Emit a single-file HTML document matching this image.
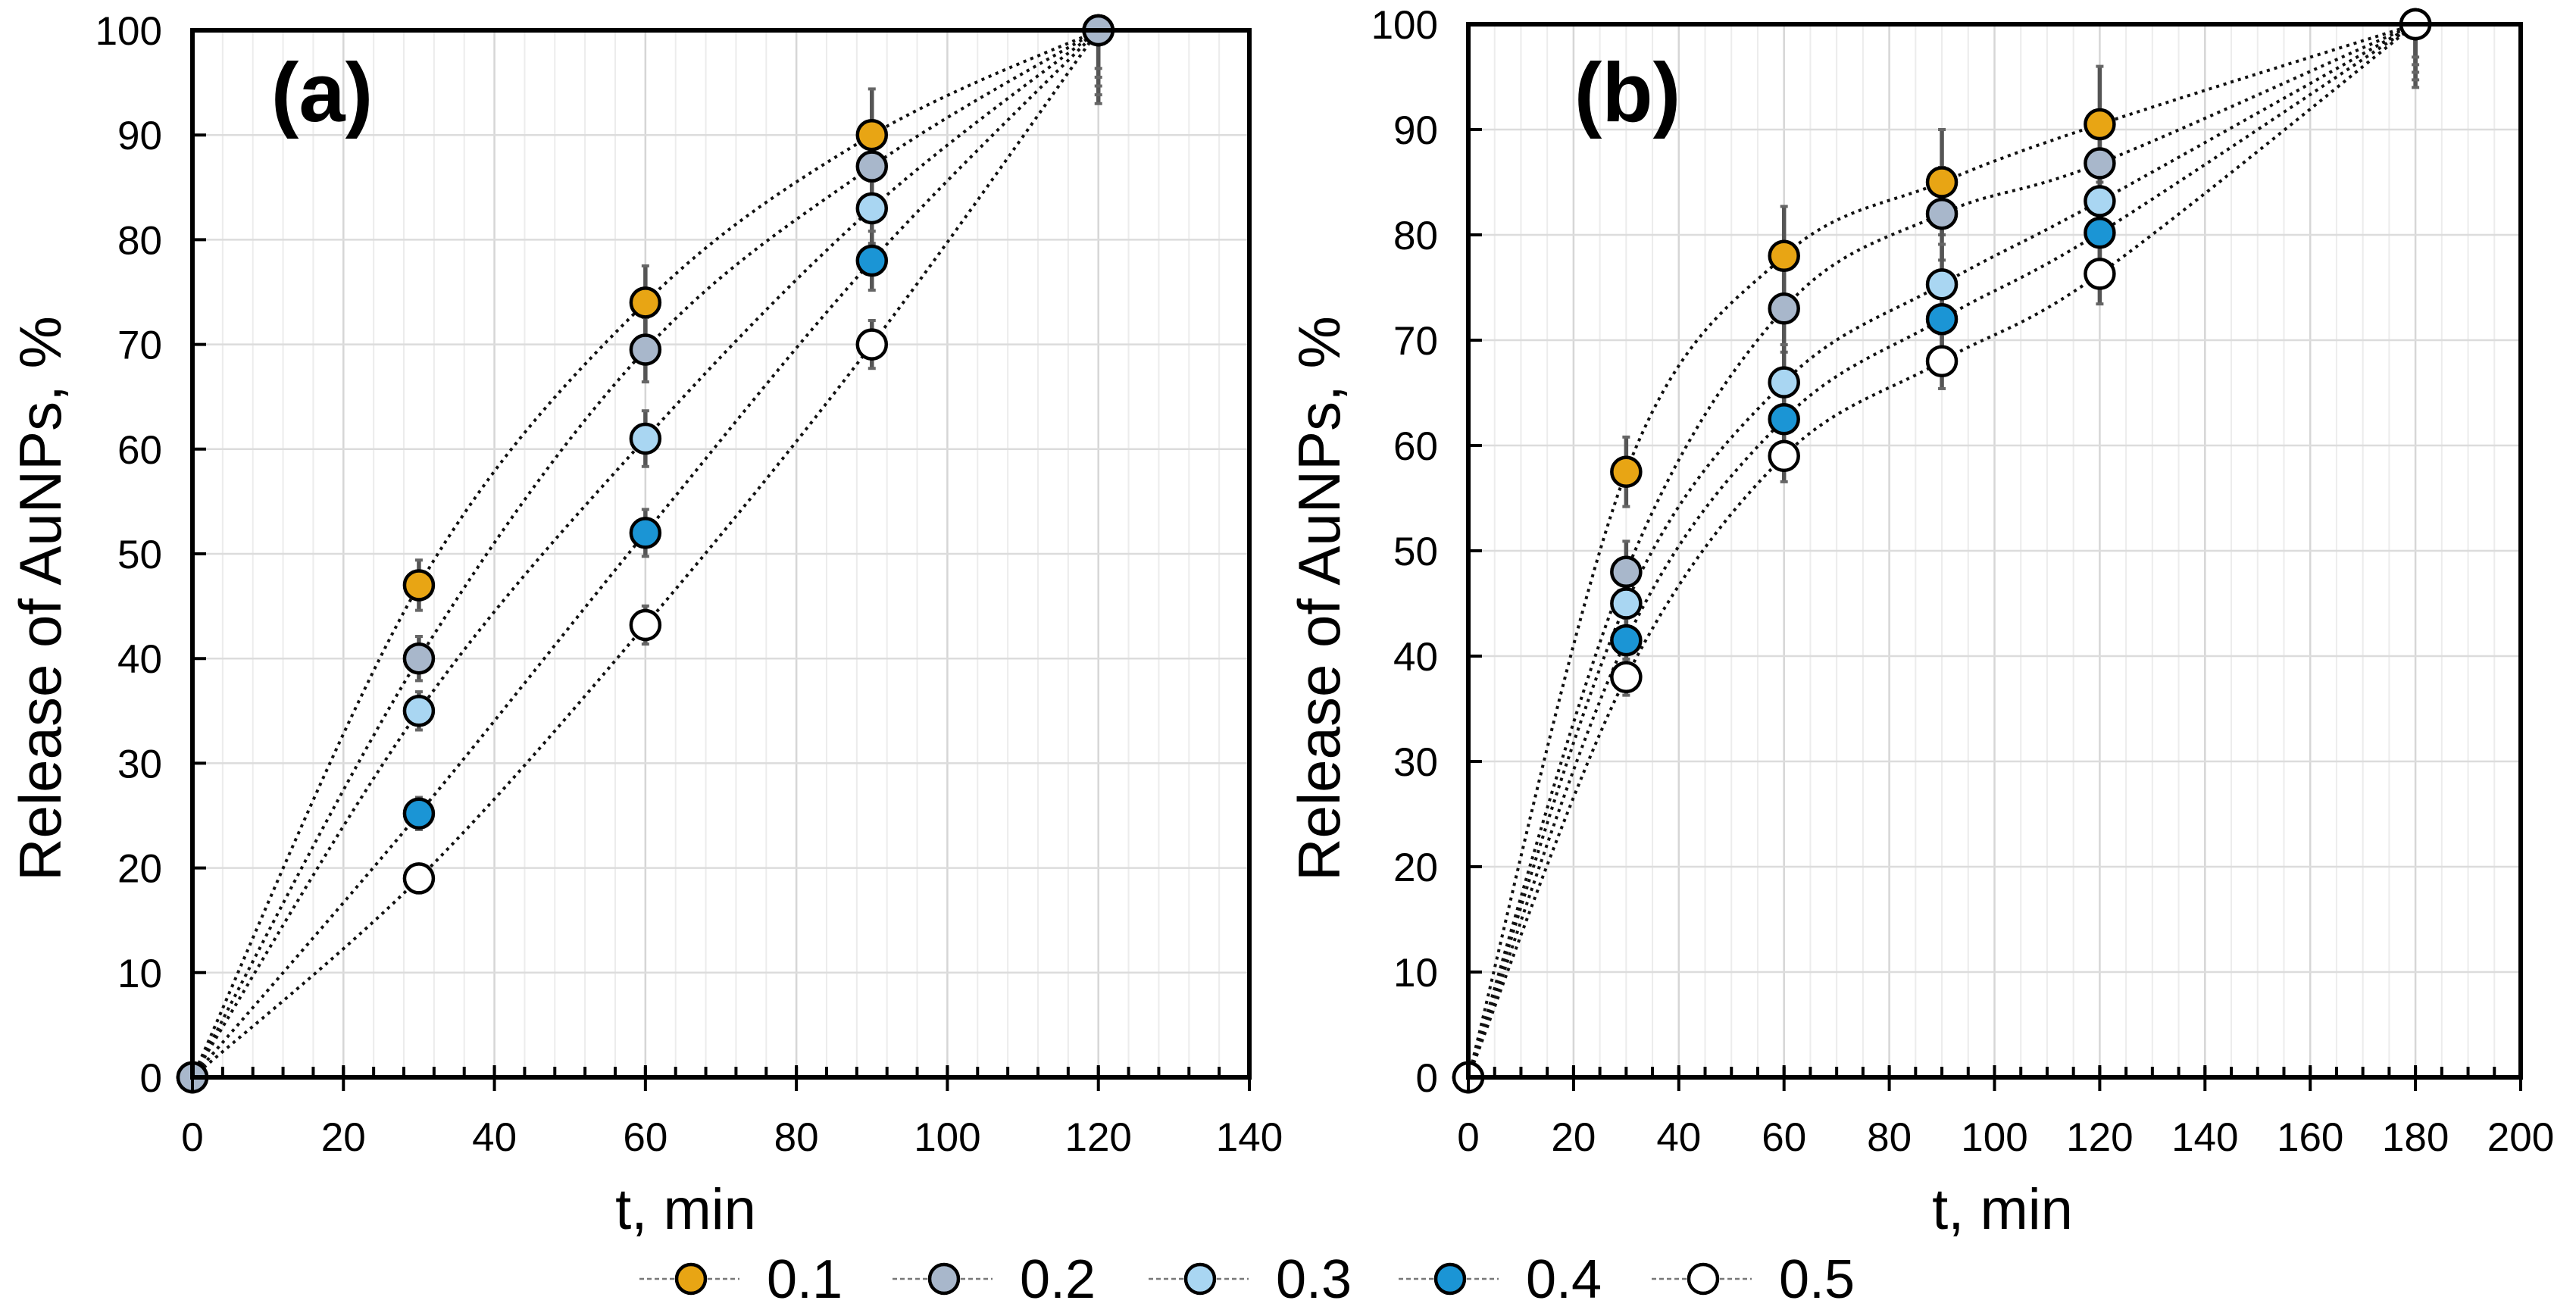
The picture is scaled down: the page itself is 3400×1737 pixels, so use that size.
<!DOCTYPE html>
<html><head><meta charset="utf-8">
<style>
html,body{margin:0;padding:0;background:#fff;}
svg{display:block;font-family:"Liberation Sans",Arial,sans-serif;}
</style></head>
<body>
<svg id="chart" width="3400" height="1737" viewBox="0 0 3400 1737" xmlns="http://www.w3.org/2000/svg"></svg>
<script>
// ---- data ----
const seriesNames = ["0.1","0.2","0.3","0.4","0.5"];
const seriesColors = ["#E8A514","#A8B7CB","#A9D6F2","#1B95D5","#FFFFFF"];
const timesA = [0,30,60,90,120];
const a01 = [0,47,74,90,100];
const a02 = [0,40,69.5,87,100];
const a03 = [0,35,61,83,100];
const a04 = [0,25.2,52,78,100];
const a05 = [0,19,43.2,70,100];
const errA = [0,2.4,3.5,4.4,7];
const timesB = [0,30,60,90,120,180];
const b01 = [0,57.5,78,85,90.5,100];
const b02 = [0,48,73,82,86.8,100];
const b03 = [0,45,66,75.3,83.2,100];
const b04 = [0,41.5,62.5,72,80.2,100];
const b05 = [0,38,59,68,76.3,100];
const errB = [0,3.3,4.7,5,5.5,6];
const yTicks = [0,10,20,30,40,50,60,70,80,90,100];
const xTicksA = [0,20,40,60,80,100,120,140];
const xTicksB = [0,20,40,60,80,100,120,140,160,180,200];

const NS="http://www.w3.org/2000/svg";
const svg=document.getElementById('chart');
function el(tag,attrs,parent){const e=document.createElementNS(NS,tag);for(const k in attrs)e.setAttribute(k,attrs[k]);(parent||svg).appendChild(e);return e;}

function smoothPath(pts){
  let d="M"+pts[0][0]+","+pts[0][1];
  for(let i=0;i<pts.length-1;i++){
    const p0=pts[i-1]||pts[i],p1=pts[i],p2=pts[i+1],p3=pts[i+2]||p2;
    const t=1/6;
    const c1=[p1[0]+(p2[0]-p0[0])*t,p1[1]+(p2[1]-p0[1])*t];
    const c2=[p2[0]-(p3[0]-p1[0])*t,p2[1]-(p3[1]-p1[1])*t];
    d+=" C"+c1[0]+","+c1[1]+" "+c2[0]+","+c2[1]+" "+p2[0]+","+p2[1];
  }
  return d;
}

function panel(cfg){
  const g=el('g',{});
  
  
  const X=v=>cfg.left+(v-cfg.xmin)/(cfg.xmax-cfg.xmin)*(cfg.right-cfg.left);
  const Y=v=>cfg.bottom-(v/100)*(cfg.bottom-cfg.top);
  for(let v=cfg.xmin;v<=cfg.xmax;v+=cfg.minor){
    el('line',{x1:X(v),x2:X(v),y1:cfg.top,y2:cfg.bottom,stroke:"#ececec","stroke-width":2},g);
  }
  cfg.xticks.forEach(v=>{el('line',{x1:X(v),x2:X(v),y1:cfg.top,y2:cfg.bottom,stroke:"#d6d6d6","stroke-width":2.5},g);});
  yTicks.forEach(v=>{el('line',{x1:cfg.left,x2:cfg.right,y1:Y(v),y2:Y(v),stroke:"#dcdcdc","stroke-width":2.5},g);});
  cfg.series.forEach((s,i)=>{
    const p=el('path',{d:smoothPath(cfg.times.map((t,j)=>[X(t),Y(s[j])])),fill:"none",stroke:"#111","stroke-width":4,"stroke-dasharray":"4 6"},g);
    
    
  });
  cfg.series.forEach((s,i)=>{
    cfg.times.forEach((t,j)=>{
      if(j===0)return;
      const e=cfg.err[j]*(1-i*0.12);
      const lo=Y(s[j]-e),hi=Y(j===cfg.times.length-1?s[j]:s[j]+e);
      const eb=el('line',{x1:X(t),x2:X(t),y1:lo,y2:hi,stroke:"#555","stroke-width":5.5},g);
      
      
      el('line',{x1:X(t)-5,x2:X(t)+5,y1:lo,y2:lo,stroke:"#666","stroke-width":4},g);
      el('line',{x1:X(t)-5,x2:X(t)+5,y1:hi,y2:hi,stroke:"#666","stroke-width":4},g);
    });
  });
  cfg.order.forEach(i=>{
    const s=cfg.series[i];
    cfg.times.forEach((t,j)=>{
      const c=el('circle',{cx:X(t),cy:Y(s[j]),r:19,fill:seriesColors[i],stroke:"#000","stroke-width":4.5},g);
      
      
    });
  });
  el('rect',{x:cfg.left,y:cfg.top,width:cfg.right-cfg.left,height:cfg.bottom-cfg.top,fill:"none",stroke:"#000","stroke-width":6},g);
  for(let v=cfg.xmin;v<=cfg.xmax;v+=cfg.minor){
    el('line',{x1:X(v),x2:X(v),y1:cfg.bottom,y2:cfg.bottom-14,stroke:"#000","stroke-width":4},g);
  }
  cfg.xticks.forEach(v=>{
    el('line',{x1:X(v),x2:X(v),y1:cfg.bottom-16,y2:cfg.bottom+18,stroke:"#000","stroke-width":4},g);
    const t=el('text',{x:X(v),y:cfg.bottom+97,"font-size":53,"text-anchor":"middle",fill:"#000"},g);
    t.textContent=v;
    
    
  });
  yTicks.forEach(v=>{
    el('line',{x1:cfg.left,x2:cfg.left+18,y1:Y(v),y2:Y(v),stroke:"#000","stroke-width":4},g);
    const t=el('text',{x:cfg.left-40,y:Y(v)+19,"font-size":53,"text-anchor":"end",fill:"#000"},g);
    t.textContent=v;
    
    
  });
  const xl=el('text',{x:cfg.xTitleX,y:1622,"font-size":76,"text-anchor":"middle"},g);
  xl.textContent="t, min";
  
  
  const yl=el('text',{x:0,y:0,"font-size":78,"text-anchor":"middle",transform:"translate("+cfg.yTitleX+",790) rotate(-90)"},g);
  yl.textContent="Release of AuNPs, %";
  
  
  const pl=el('text',{x:cfg.labelX,y:160,"font-size":110,"font-weight":"bold","text-anchor":"middle"},g);
  pl.textContent=cfg.label;
  
  
}

panel({name:"panel-a",left:254,right:1649,top:40,bottom:1422,xmin:0,xmax:140,minor:4,xticks:xTicksA,
  times:timesA,series:[a01,a02,a03,a04,a05],order:[0,2,3,4,1],err:errA,xTitleX:905,yTitleX:80,labelX:425,label:"(a)"});
panel({name:"panel-b",left:1938,right:3327,top:32,bottom:1422,xmin:0,xmax:200,minor:5,xticks:xTicksB,
  times:timesB,series:[b01,b02,b03,b04,b05],order:[0,1,2,3,4],err:errB,xTitleX:2643,yTitleX:1768,labelX:2148,label:"(b)"});

const legX=[912,1246,1584,1914,2248];
const lg=el('g',{});


seriesNames.forEach((n,i)=>{
  const e=el('g',{},lg);
  
  
  el('line',{x1:legX[i]-68,x2:legX[i]+64,y1:1688,y2:1688,stroke:"#777","stroke-width":2.5,"stroke-dasharray":"6 4"},e);
  el('circle',{cx:legX[i],cy:1688,r:19,fill:seriesColors[i],stroke:"#000","stroke-width":4.5},e);
  const t=el('text',{x:legX[i]+100,y:1713,"font-size":72},e);
  t.textContent=n;
});
</script>
</body></html>
